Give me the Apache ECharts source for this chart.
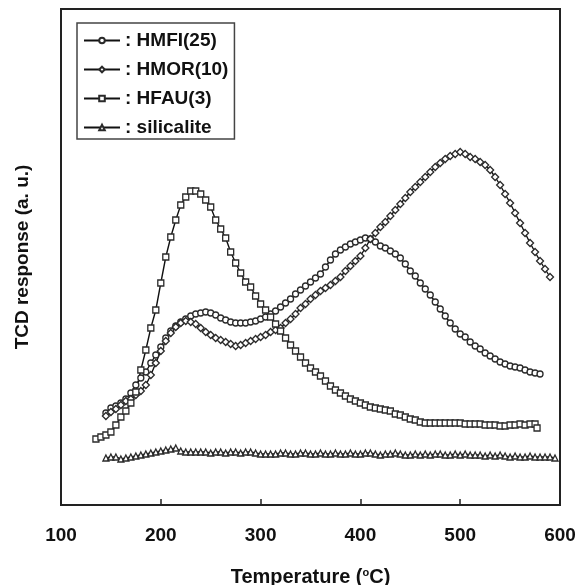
<!DOCTYPE html>
<html><head><meta charset="utf-8">
<script src="https://cdn.jsdelivr.net/npm/echarts@6/dist/echarts.min.js"></script>
<style>html,body{margin:0;padding:0;background:#fff}#c{width:588px;height:585px}</style>
</head><body><div id="c"></div>
<script>
// Temperature (°C) and TCD response (a.u.)
const hmfiT = [145,150,155,160,165,170,175,180,185,190,195,200,205,210,215,220,225,230,235,240,245,250,255,260,265,270,275,280,285,290,295,300,305,310,315,320,325,330,335,340,345,350,355,360,365,370,375,380,385,390,395,400,405,410,415,420,425,430,435,440,445,450,455,460,465,470,475,480,485,490,495,500,505,510,515,520,525,530,535,540,545,550,555,560,565,570,575,580];
const hmfiV = [92,97,99,102,106,112,120,127,133,142,150,158,167,174,179,183,186,189,191,192,193,192,190,187,185,183,182,182,182,183,184,186,188,191,194,198,202,206,211,215,219,223,227,231,238,245,251,255,258,261,263,265,267,266,263,259,257,254,251,247,241,234,229,222,216,210,203,196,189,182,176,171,168,163,159,156,152,149,146,143,141,139,138,137,135,133,132,131];

const hmorT = [145,150,155,160,165,170,175,180,185,190,195,200,205,210,215,220,225,230,235,240,245,250,255,260,265,270,275,280,285,290,295,300,305,310,315,320,325,330,335,340,345,350,355,360,365,370,375,380,385,390,395,400,405,410,415,420,425,430,435,440,445,450,455,460,465,470,475,480,485,490,495,500,505,510,515,520,525,530,535,540,545,550,555,560,565,570,575,580,585,590];
const hmorV = [89,93,96,100,104,106,110,114,120,130,142,154,164,172,178,182,184,183,181,177,173,170,167,165,163,161,159,160,162,164,166,168,170,173,175,177,182,186,191,197,201,206,210,214,217,220,224,228,234,239,244,249,257,266,272,278,283,289,295,301,307,313,318,323,328,333,338,342,346,349,351,353,351,348,346,343,340,335,328,320,311,302,292,282,272,262,253,244,236,228];

const hfauT = [135,140,145,150,155,160,165,170,175,180,185,190,195,200,205,210,215,220,225,230,235,240,245,250,255,260,265,270,275,280,285,290,295,300,305,310,315,320,325,330,335,340,345,350,355,360,365,370,375,380,385,390,395,400,405,410,415,420,425,430,435,440,445,450,455,460,465,470,475,480,485,490,495,500,505,510,515,520,525,530,535,540,545,550,555,560,565,570,575,577];
const hfauV = [66,68,70,73,80,88,94,102,113,135,155,177,195,222,248,268,285,300,308,314,314,311,305,298,285,276,267,253,242,232,223,218,209,201,195,188,181,174,167,160,154,148,142,137,133,129,124,119,115,112,109,106,104,102,100,98,97,96,95,94,91,90,88,86,85,83,82,82,82,82,82,82,82,82,81,81,81,81,80,80,80,79,79,80,80,81,80,81,81,77];

const silT = [145,150,155,160,165,170,175,180,185,190,195,200,205,210,215,220,225,230,235,240,245,250,255,260,265,270,275,280,285,290,295,300,305,310,315,320,325,330,335,340,345,350,355,360,365,370,375,380,385,390,395,400,405,410,415,420,425,430,435,440,445,450,455,460,465,470,475,480,485,490,495,500,505,510,515,520,525,530,535,540,545,550,555,560,565,570,575,580,585,590,595];
const silV = [47,48,48,46,47,48,49,50,51,52,53,54,55,56,57,54,53,53,53,53,53,52,53,53,52,53,53,52,53,53,52,51,51,51,51,52,52,51,51,52,52,51,51,52,51,51,52,51,51,52,51,51,52,52,51,50,51,51,52,51,50,50,51,50,51,50,51,51,50,50,51,50,51,50,50,50,49,50,49,50,49,48,49,48,48,49,48,48,48,48,47];

const seriesNames = ['HMFI(25)','HMOR(10)','HFAU(3)','silicalite'];
const xTickValues = [100,200,300,400,500,600];

const chart = echarts.init(document.getElementById('c'));
function pairs(t, v){ return t.map((x, i) => [x, v[i]]); }
function mk(name, sym, size, t, v){
  return {
    name, type:'line', data: pairs(t, v), symbol: sym, symbolSize: size, showAllSymbol: true,
    itemStyle:{color:'#fff', borderColor:'#2a2a2a', borderWidth:1.3},
    lineStyle:{color:'#111', width:1.4},
    emphasis:{disabled:true}, animation:false, z: 3
  };
}
const font = 'Liberation Sans, Arial, sans-serif';
chart.setOption({
  animation:false,
  grid:{left:61, right:28, top:9, bottom:80, outerBoundsMode:'none', containLabel:false,
        show:true, borderColor:'#222', borderWidth:2, backgroundColor:'transparent'},
  legend:{
    orient:'vertical', left:77, top:23, padding:[8,6,2,6], itemGap:10, itemWidth:36, itemHeight:7,
    borderColor:'#444', borderWidth:1.5, backgroundColor:'#fff',
    textStyle:{fontFamily:font, fontWeight:'bold', fontSize:19, color:'#111'},
    formatter: n => ': ' + n,
    data: seriesNames
  },
  xAxis:{
    type:'value', min:100, max:600, interval:100,
    axisLine:{show:true, lineStyle:{color:'#222', width:2}},
    axisTick:{show:true, inside:true, length:6, lineStyle:{color:'#222', width:1.5}},
    axisLabel:{margin:21, fontFamily:font, fontWeight:'bold', fontSize:19, color:'#111',
      formatter: v => xTickValues.includes(v) ? String(v) : ''},
    splitLine:{show:false},
    name:'{a|Temperature (}{s|o}{a|C)}', nameLocation:'middle', nameGap:62,
    nameTextStyle:{rich:{
      a:{fontFamily:font, fontWeight:'bold', fontSize:20, color:'#111'},
      s:{fontFamily:font, fontWeight:'bold', fontSize:11, color:'#111', verticalAlign:'top', padding:[0,0,10,0]}
    }}
  },
  yAxis:{
    type:'value', min:0, max:496,
    axisLine:{show:true, lineStyle:{color:'#222', width:2}},
    axisTick:{show:false}, axisLabel:{show:false}, splitLine:{show:false},
    name:'TCD response (a. u.)', nameLocation:'middle', nameGap:29, nameRotate:90,
    nameTextStyle:{fontFamily:font, fontWeight:'bold', fontSize:19, color:'#111'}
  },
  series:[
    mk('HMFI(25)', 'circle', 6, hmfiT, hmfiV),
    mk('HMOR(10)', 'diamond', 7, hmorT, hmorV),
    mk('HFAU(3)', 'rect', 6, hfauT, hfauV),
    mk('silicalite', 'triangle', 6, silT, silV)
  ]
});
</script></body></html>
